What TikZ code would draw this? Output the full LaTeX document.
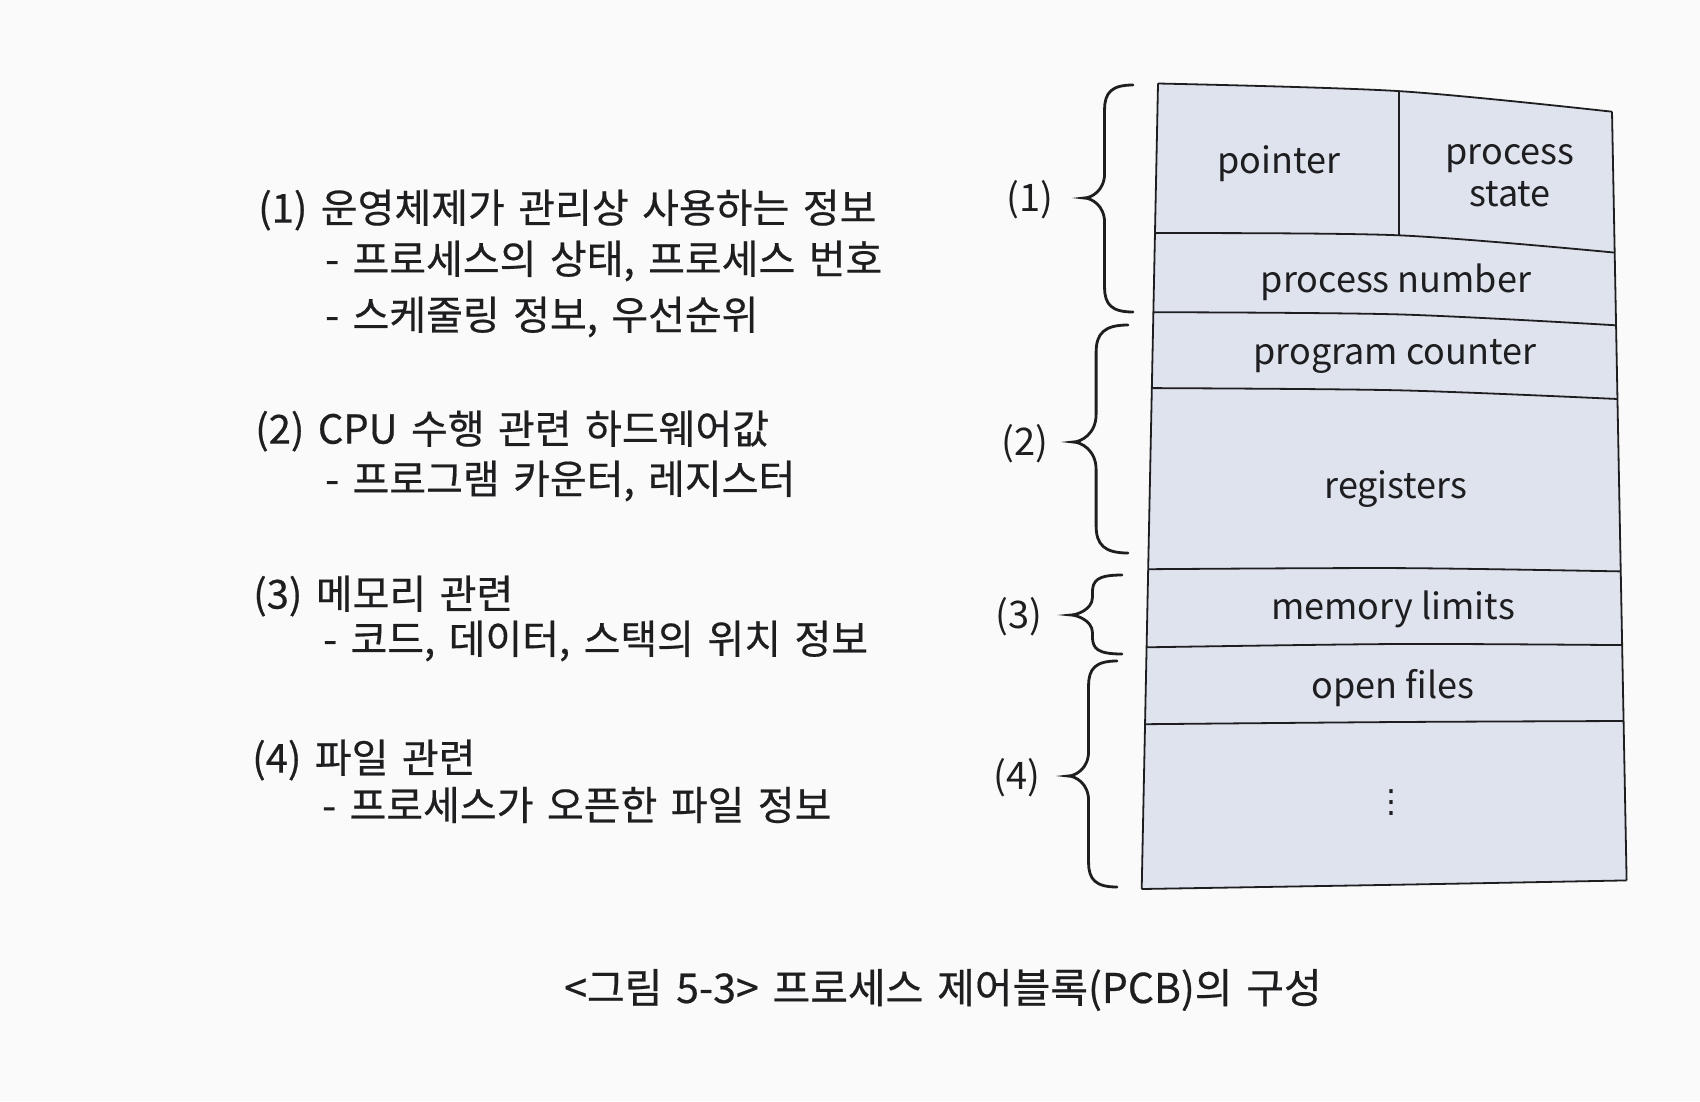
\documentclass[tikz,border=0pt]{standalone}
\usepackage{fontspec}
\setmainfont{Noto Sans CJK KR}
\newfontfamily\krfont{Noto Sans CJK KR}[FakeBold=0.5,WordSpace=1.5]
\newfontfamily\dvfont{DejaVu Sans}
\definecolor{ink}{RGB}{30,30,32}
\definecolor{boxfill}{RGB}{222,227,238}
\definecolor{paper}{RGB}{250,250,250}
\tikzset{
  desc/.style={anchor=west, font=\krfont\fontsize{40}{48}\selectfont, text=ink, inner sep=0pt},
  boxtxt/.style={font=\fontsize{36}{42}\selectfont, text=ink, inner sep=0pt, align=center},
  lbl/.style={font=\fontsize{38}{46}\selectfont, text=ink, inner sep=0pt},
  pcbline/.style={line width=1.8pt, draw=ink},
  bracestyle/.style={line width=2.8pt, draw=ink, line cap=round},
}
\newcommand\pcbbrace[5]{% xe, yt, yb, xt, ym
  \pgfmathsetmacro\bxs{#4+0.42*(#1-#4)}
  \pgfmathsetmacro\br{min(0.5*(#1-#4),0.45*(#5-#2),0.45*(#3-#5))}
  \draw[bracestyle] (#1,#2) .. controls (\bxs+0.3*\br,#2) and (\bxs,#2+0.3*\br) .. (\bxs,#2+\br)
    -- (\bxs,#5-\br) .. controls (\bxs,#5-0.3*\br) and (#4+0.3*\br,#5) .. (#4,#5)
    .. controls (#4+0.3*\br,#5) and (\bxs,#5+0.3*\br) .. (\bxs,#5+\br)
    -- (\bxs,#3-\br) .. controls (\bxs,#3-0.3*\br) and (\bxs+0.3*\br,#3) .. (#1,#3);
}
\begin{document}
\begin{tikzpicture}[x=1pt,y=-1pt]
\useasboundingbox[fill=paper] (0,0) rectangle (1700,1101);

% PCB outline coordinates
\coordinate (l1) at (1158,83.5);   \coordinate (m1) at (1398.6,91.1);  \coordinate (r1) at (1612,111.7);
\coordinate (l2) at (1155.0,233.1); \coordinate (m2) at (1398.6,235.3); \coordinate (r2) at (1614.7,252.6);
\coordinate (l3) at (1153.4,312.2); \coordinate (m3) at (1398.6,314.4); \coordinate (r3) at (1616.1,325.3);
\coordinate (l4) at (1151.8,388.1); \coordinate (m4) at (1398.6,390.3); \coordinate (r4) at (1617.5,399.0);
\coordinate (l5) at (1148.2,569.2); \coordinate (m5) at (1398.6,568.1); \coordinate (r5) at (1620.7,571.4);
\coordinate (l6) at (1146.6,647.3); \coordinate (m6) at (1398.6,644.0); \coordinate (r6) at (1622.1,645.1);
\coordinate (l7) at (1145.0,724.2); \coordinate (m7) at (1398.6,722.0); \coordinate (r7) at (1623.6,721.0);
\coordinate (l8) at (1141.7,889.0); \coordinate (m8) at (1398.6,884.7); \coordinate (r8) at (1626.6,880.4);

% fill
\fill[boxfill] plot[smooth] coordinates {(l1) (m1) (r1)} -- (r8)
  -- plot[smooth] coordinates {(r8) (m8) (l8)} -- cycle;

% horizontal lines
\foreach \i in {1,...,8}{
  \draw[pcbline] plot[smooth] coordinates {(l\i) (m\i) (r\i)};
}
% sides
\draw[pcbline] (l1) -- (l8);
\draw[pcbline] (r1) -- (r8);
\draw[pcbline] (m1) -- (m2);

% box texts
\node[boxtxt] (pointer) at (1279,164) {pointer};
\node[boxtxt] (pstate) at (1510,176) {process\\state};
\node[boxtxt] (pnum) at (1396,282) {process number};
\node[boxtxt] (pc) at (1395,356) {program counter};
\node[boxtxt] (regs) at (1396,489) {registers};
\node[boxtxt] (mem) at (1393,609) {memory limits};
\node[boxtxt] (files) at (1393,688) {open files};
\node[boxtxt, font=\dvfont\fontsize{32}{36}\selectfont] (dots) at (1391,803) {⋮};

% braces
\pcbbrace{1133}{85}{312}{1084}{198}
\pcbbrace{1128}{325}{553}{1073}{442}
\pcbbrace{1122}{575}{654}{1071}{615}
\pcbbrace{1117}{661}{887}{1068}{776}

% brace labels
\node[lbl] (b1) at (1030,200) {(1)};
\node[lbl] (b2) at (1025,444) {(2)};
\node[lbl] (b3) at (1019,617) {(3)};
\node[lbl] (b4) at (1017,778) {(4)};

% description texts
\node[desc] (t1) at (258,210) {(1) 운영체제가 관리상 사용하는 정보};
\node[desc] (t2) at (325,261) {- 프로세스의 상태, 프로세스 번호};
\node[desc] (t3) at (325,317) {- 스케줄링 정보, 우선순위};
\node[desc] (t4) at (255,431) {(2) CPU 수행 관련 하드웨어값};
\node[desc] (t5) at (325,481) {- 프로그램 카운터, 레지스터};
\node[desc] (t6) at (253,596) {(3) 메모리 관련};
\node[desc] (t7) at (323,641) {- 코드, 데이터, 스택의 위치 정보};
\node[desc] (t8) at (252,760) {(4) 파일 관련};
\node[desc] (t9) at (322,805) {- 프로세스가 오픈한 파일 정보};

% caption
\node[lbl, font=\krfont\fontsize{41}{48}\selectfont] (cap) at (943,990) {<그림 5-3> 프로세스 제어블록(PCB)의 구성};
\end{tikzpicture}
\end{document}
